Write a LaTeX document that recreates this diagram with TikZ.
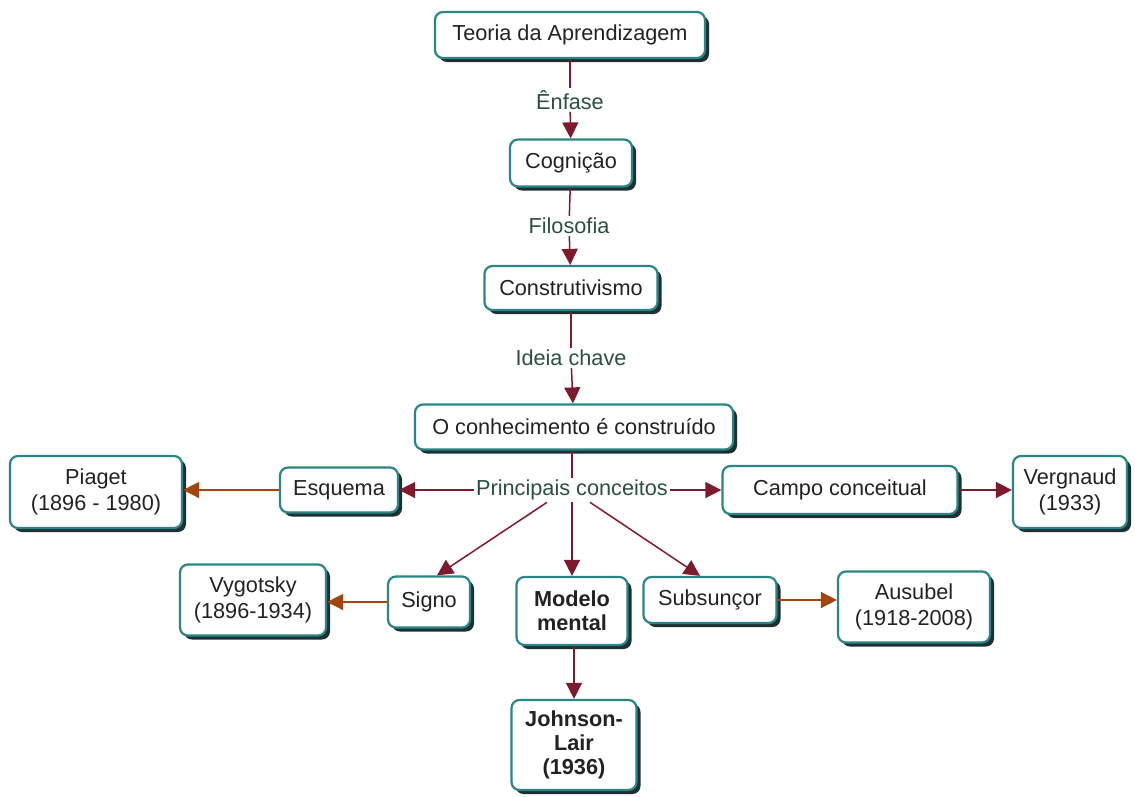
\documentclass[tikz,border=0pt]{standalone}
\usepackage{fontspec}
\setmainfont{Liberation Sans}
\usetikzlibrary{arrows.meta,shadows}
\definecolor{boxborder}{HTML}{2B8585}
\definecolor{shadowc}{HTML}{1E3033}
\definecolor{arrred}{HTML}{7D1A2C}
\definecolor{arrbrown}{HTML}{A3450E}
\definecolor{lbltxt}{HTML}{2B4F45}
\definecolor{boxtxt}{HTML}{222222}
\tikzset{
  concept/.style={draw=boxborder, line width=2.2pt, rounded corners=8pt, fill=white,
    text=boxtxt, align=center, inner sep=2pt, font=\fontsize{21.7}{26}\selectfont,
    drop shadow={shadow xshift=4pt, shadow yshift=-4pt, fill=shadowc, opacity=1}},
  boldconcept/.style={concept, font=\bfseries\fontsize{21.7}{24}\selectfont},
  linklbl/.style={fill=white, text=lbltxt, inner sep=2pt, font=\fontsize{21.7}{26}\selectfont},
  redarrow/.style={draw=arrred, line width=1.5pt, -{Triangle[length=16pt,width=16pt]}},
  redline/.style={draw=arrred, line width=1.5pt},
  brownarrow/.style={draw=arrbrown, line width=1.5pt, -{Triangle[length=16pt,width=16pt]}},
}
\begin{document}
\begin{tikzpicture}[x=1pt,y=-1pt]
\useasboundingbox (0,0) rectangle (1135,796);
% concepts
\node[concept, minimum width=270, minimum height=46] (teoria) at (570,35) {Teoria da Aprendizagem};
\node[concept, minimum width=122, minimum height=47] (cognicao) at (571,163) {Cognição};
\node[concept, minimum width=173, minimum height=44] (constr) at (571,288) {Construtivismo};
\node[concept, minimum width=318, minimum height=45] (conhec) at (574,427) {O conhecimento é construído};
\node[concept, minimum width=118, minimum height=45] (esquema) at (339,490) {Esquema};
\node[concept, minimum width=172, minimum height=72] (piaget) at (96,492) {Piaget\\(1896 - 1980)};
\node[concept, minimum width=235, minimum height=48] (campo) at (840,490) {Campo conceitual};
\node[concept, minimum width=114, minimum height=72] (vergnaud) at (1070,492) {Vergnaud\\(1933)};
\node[concept, minimum width=82, minimum height=51] (signo) at (429,602) {Signo};
\node[boldconcept, minimum width=111, minimum height=68] (modelo) at (572,611) {Modelo\\mental};
\node[concept, minimum width=133, minimum height=46] (subs) at (710,600) {Subsunçor};
\node[concept, minimum width=146, minimum height=71] (vygotsky) at (253,600) {Vygotsky\\(1896-1934)};
\node[concept, minimum width=152, minimum height=71] (ausubel) at (914,607) {Ausubel\\(1918-2008)};
\node[boldconcept, minimum width=125, minimum height=90] (johnson) at (574,745) {Johnson-\\Lair\\(1936)};
% link labels
\node[linklbl] (enfase) at (570,100) {Ênfase};
\node[linklbl] (filosofia) at (569,226) {Filosofia};
\node[linklbl] (ideia) at (571,358) {Ideia chave};
\node[linklbl] (princ) at (572,490) {Principais conceitos};
% connectors
\draw[redline] (teoria) -- (enfase);
\draw[redarrow] (enfase) -- (cognicao);
\draw[redline] (cognicao) -- (filosofia);
\draw[redarrow] (filosofia) -- (constr);
\draw[redline] (constr) -- (ideia);
\draw[redarrow] (ideia) -- (conhec);
\draw[redline] (conhec.south -| princ.north) -- (princ.north);
\draw[redarrow] (princ) -- (esquema);
\draw[redarrow] (princ) -- (campo);
\draw[redarrow] ([xshift=-25pt]princ.south) -- ([xshift=8pt]signo.north);
\draw[redarrow] (princ.south) -- (modelo.north);
\draw[redarrow] ([xshift=18pt]princ.south) -- ([xshift=-10pt]subs.north);
\draw[redarrow] (campo.east) -- (campo.east -| vergnaud.west);
\draw[redarrow] (modelo.south -| johnson.north) -- (johnson.north);
\draw[brownarrow] (esquema.west) -- (esquema.west -| piaget.east);
\draw[brownarrow] (signo.west) -- (signo.west -| vygotsky.east);
\draw[brownarrow] (subs.east) -- (subs.east -| ausubel.west);
\end{tikzpicture}
\end{document}
